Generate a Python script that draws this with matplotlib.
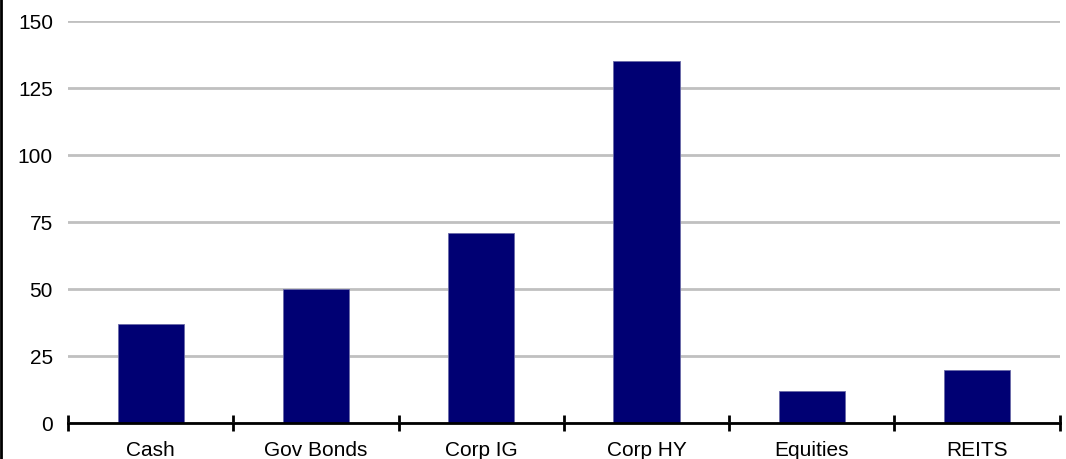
import numpy as np
import matplotlib.pyplot as plt
from matplotlib.ticker import FixedLocator

plt.rcParams['font.family'] = ['Liberation Sans', 'DejaVu Sans']

categories = ['Cash', 'Gov Bonds', 'Corp IG', 'Corp HY', 'Equities', 'REITS']
values = [37, 50, 71, 135, 12, 20]
yticks = [0, 25, 50, 75, 100, 125, 150]

fig = plt.figure(figsize=(10.66, 4.59), dpi=100)
ax = fig.add_axes([0.064, 0.078, 0.93, 0.876])

x = np.arange(len(categories))
ax.bar(x, values, width=0.4, color='#000073', edgecolor='#6a6aa8', linewidth=0.6, zorder=3)

ax.set_xlim(-0.5, len(categories) - 0.5)
ax.set_ylim(0, 150)
ax.set_yticks(yticks)
ax.set_yticklabels([str(v) for v in yticks], fontsize=15)
ax.tick_params(axis='y', length=0, pad=11)
ax.yaxis.grid(True, color='#c0c0c0', linewidth=2, zorder=0)

# labels at centres, tick marks between categories
ax.set_xticks(x)
ax.set_xticklabels(categories, fontsize=15)
ax.tick_params(axis='x', which='major', length=0, pad=13)
ax.xaxis.set_minor_locator(FixedLocator(np.arange(-0.5, len(categories), 1.0)))
ax.tick_params(axis='x', which='minor', direction='inout', length=12, width=2, color='black')

for side in ['top', 'right', 'left']:
    ax.spines[side].set_visible(False)
ax.spines['bottom'].set_linewidth(2)
ax.spines['bottom'].set_zorder(4)

# figure border on the left edge
fig.add_artist(plt.Line2D([0.001, 0.001], [0, 1], color='black', linewidth=2, transform=fig.transFigure))

fig.savefig('out.png', dpi=100)
